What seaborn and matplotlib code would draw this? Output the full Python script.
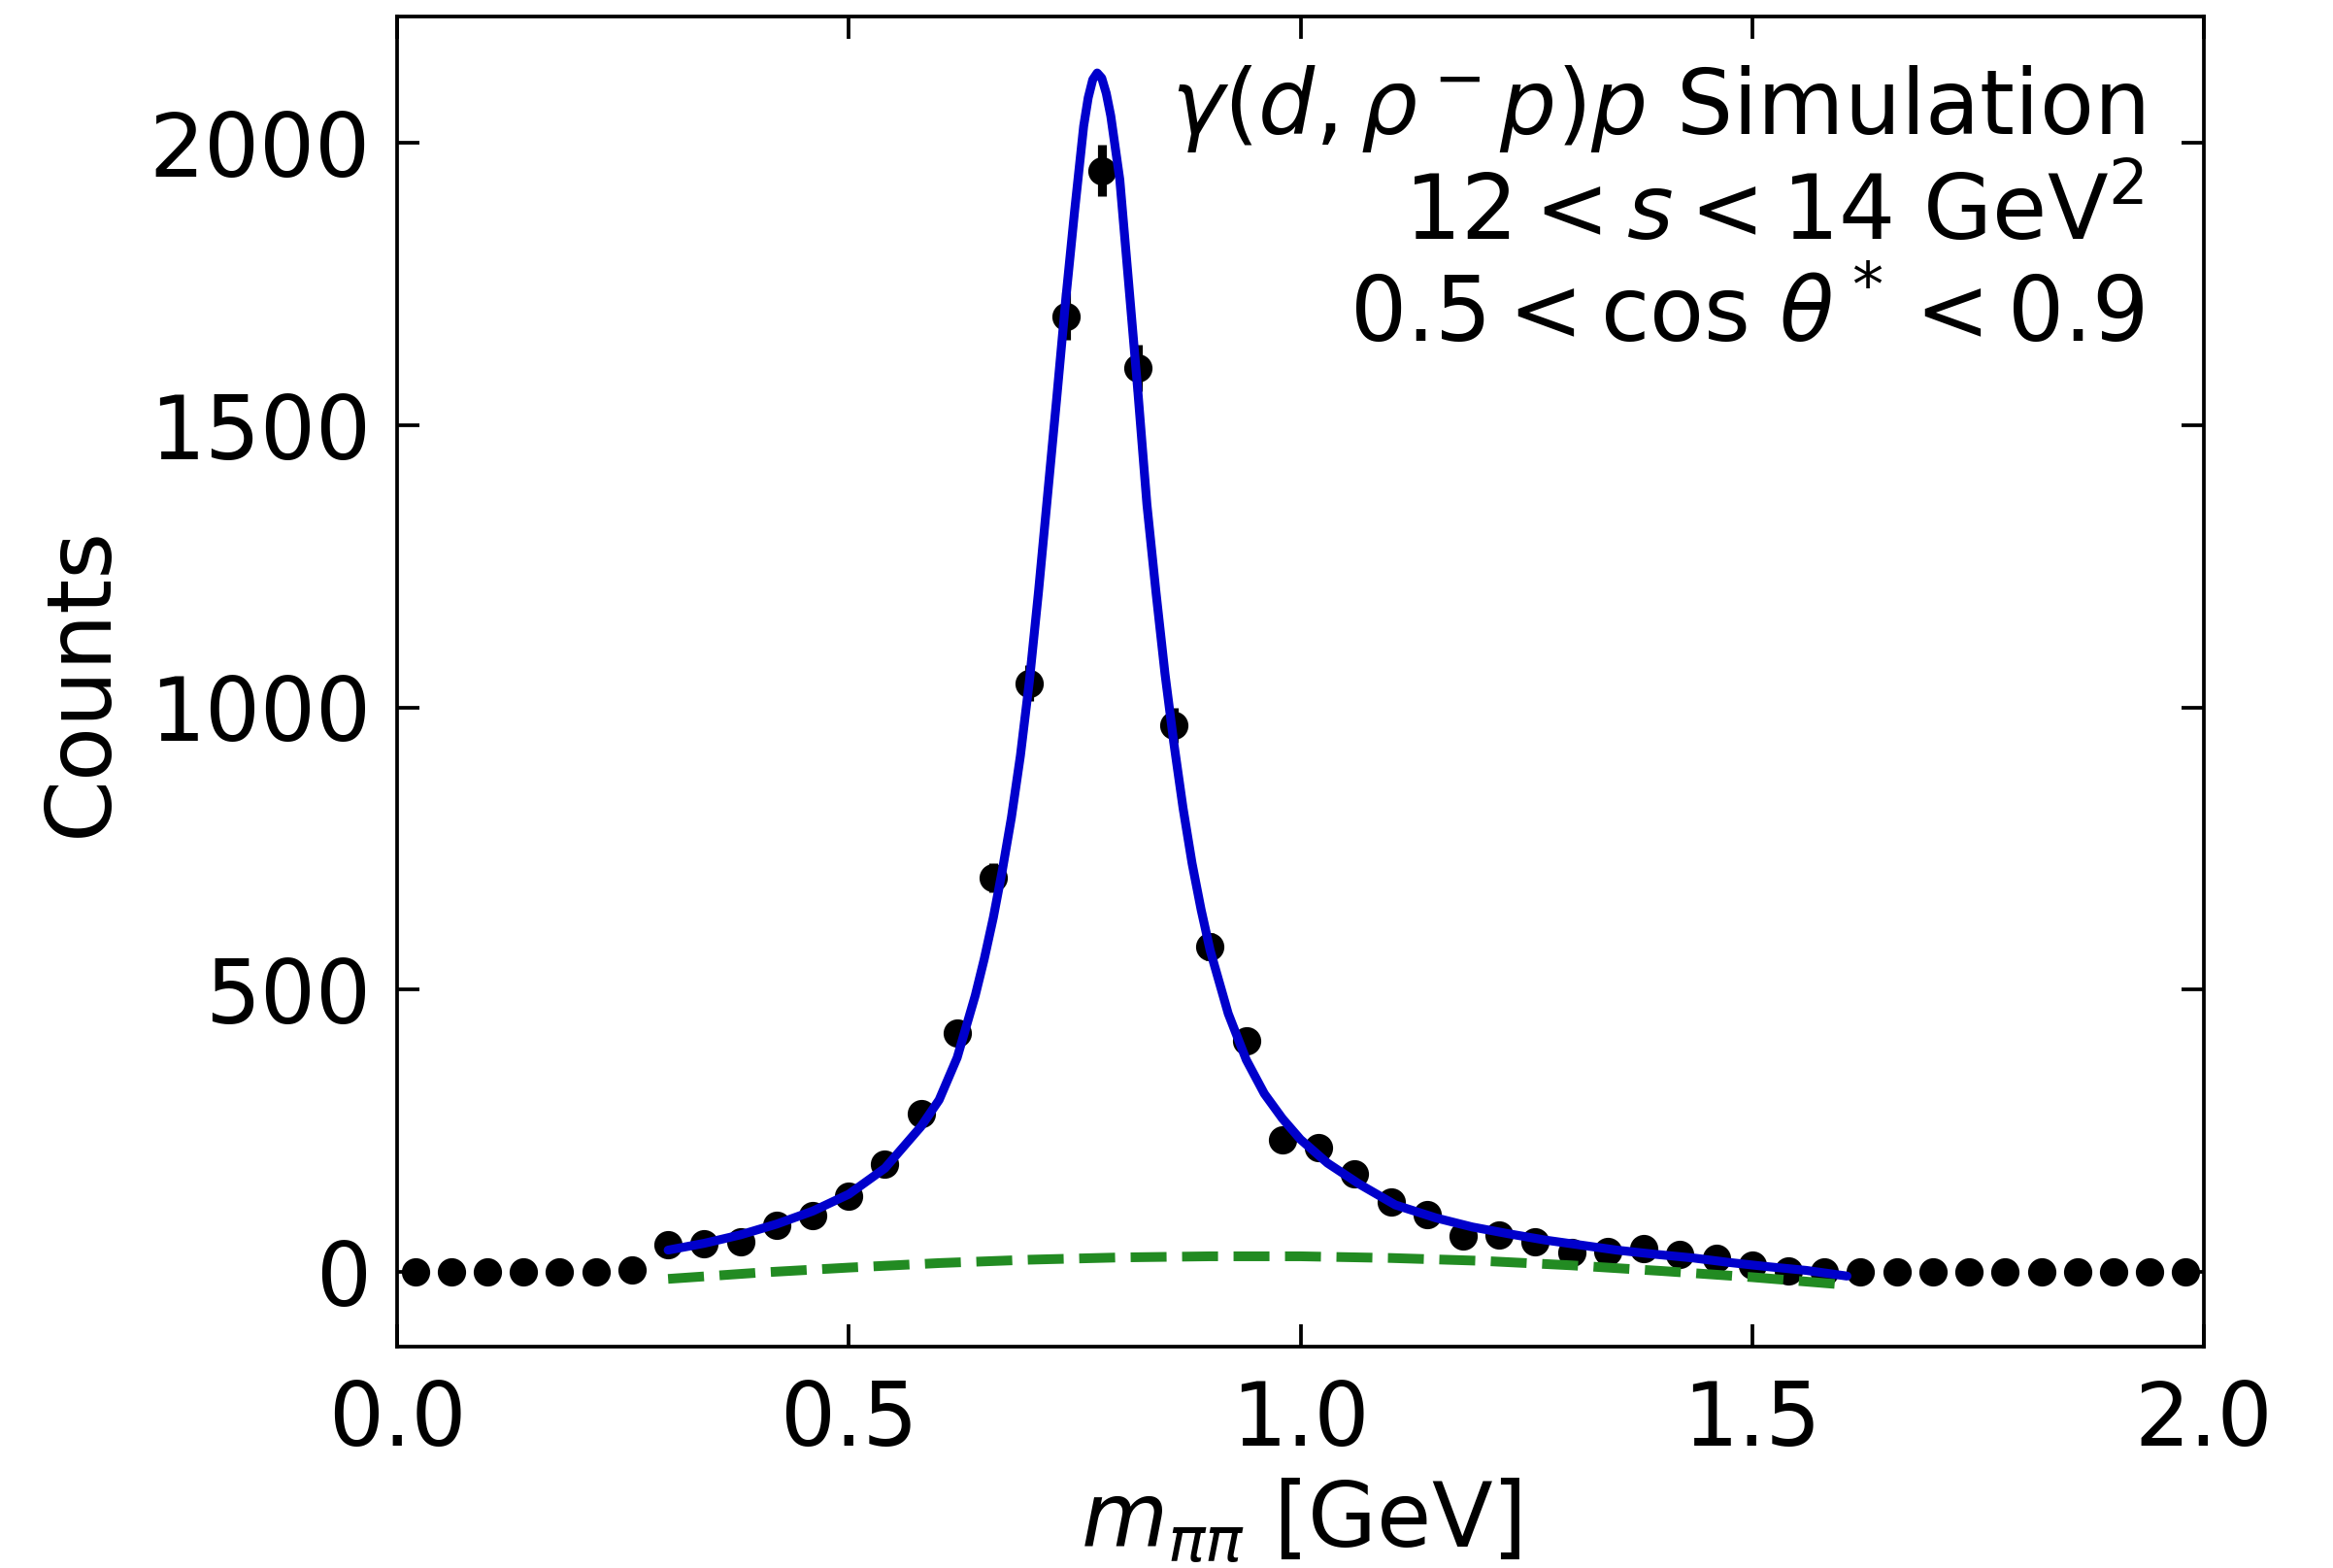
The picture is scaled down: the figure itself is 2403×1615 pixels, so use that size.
import matplotlib
matplotlib.use("Agg")
import matplotlib.pyplot as plt
import seaborn as sns
import numpy as np

# ---- data ----
bin_centers = [0.02, 0.06, 0.10, 0.14, 0.18, 0.22, 0.26, 0.30, 0.34, 0.38,
               0.42, 0.46, 0.50, 0.54, 0.58, 0.62, 0.66, 0.70, 0.74, 0.78,
               0.82, 0.86, 0.90, 0.94, 0.98, 1.02, 1.06, 1.10, 1.14, 1.18,
               1.22, 1.26, 1.30, 1.34, 1.38, 1.42, 1.46, 1.50, 1.54, 1.58,
               1.62, 1.66, 1.70, 1.74, 1.78, 1.82, 1.86, 1.90, 1.94, 1.98]
counts = [0, 0, 0, 0, 0, 0, 4, 48, 51, 53,
          83, 101, 135, 191, 281, 424, 699, 1043, 1693, 1951,
          1601, 969, 576, 409, 235, 221, 174, 124, 102, 64,
          66, 53, 34, 37, 42, 32, 25, 12, 2, 1,
          0, 0, 0, 0, 0, 0, 0, 0, 0, 0]
count_errors = [0, 0, 0, 0, 0, 0, 2, 7, 7, 7,
                9, 10, 12, 14, 17, 21, 26, 32, 42, 46,
                41, 31, 24, 20, 15, 15, 13, 11, 10, 8,
                8, 7, 6, 6, 6, 6, 5, 3, 1, 1,
                0, 0, 0, 0, 0, 0, 0, 0, 0, 0]

fit_x = [0.30, 0.34, 0.38, 0.42, 0.46, 0.50, 0.54, 0.58, 0.60, 0.62,
         0.64, 0.65, 0.66, 0.67, 0.68, 0.69, 0.70, 0.71, 0.72, 0.73,
         0.74, 0.75, 0.76, 0.765, 0.77, 0.775, 0.78, 0.785, 0.79, 0.80,
         0.81, 0.82, 0.83, 0.84, 0.85, 0.86, 0.87, 0.88, 0.89, 0.90,
         0.92, 0.94, 0.96, 0.98, 1.00, 1.03, 1.065, 1.105, 1.15, 1.19,
         1.23, 1.27, 1.31, 1.35, 1.39, 1.435, 1.475, 1.515, 1.56, 1.605]
fit_y = [39, 51, 66, 85, 108, 138, 184, 258, 305, 380,
         490, 555, 628, 712, 805, 915, 1048, 1205, 1375, 1545,
         1720, 1880, 2030, 2080, 2112, 2124, 2115, 2088, 2048, 1935,
         1748, 1560, 1360, 1205, 1060, 935, 822, 724, 642, 570,
         458, 376, 316, 272, 235, 193, 156, 119, 96, 80,
         68, 57, 48, 39, 32, 25, 17, 10, 3, -7]

bkg_x = [0.30, 0.40, 0.50, 0.60, 0.70, 0.80, 0.90, 1.00, 1.10, 1.20,
         1.30, 1.40, 1.50, 1.60]
bkg_y = [-12, -1, 8, 16, 22, 26, 28, 28, 25, 20,
         12, 2, -9, -22]

x_ticks = [0.0, 0.5, 1.0, 1.5, 2.0]
y_ticks = [0, 500, 1000, 1500, 2000]

annotation_lines = [r"$\gamma(d,\rho^-p)p$ Simulation",
                    r"$12 < s < 14$ GeV$^2$",
                    r"$0.5 < \cos\,\theta^* < 0.9$"]

# ---- style ----
sns.set_theme(style="white")
plt.rcParams["font.family"] = ["DejaVu Sans"]
plt.rcParams["mathtext.fontset"] = "dejavusans"

fig = plt.figure(figsize=(2403 / 300, 1615 / 300), dpi=300)
ax = fig.add_axes([409 / 2403, 1 - 1387 / 1615, (2270 - 409) / 2403, (1387 - 17) / 1615])

ax.errorbar(bin_centers, counts, yerr=count_errors, fmt="o", color="black",
            markersize=6.0, elinewidth=2.2, capsize=0, zorder=2)
sns.lineplot(x=fit_x, y=fit_y, ax=ax, color="#0000CC", linewidth=2.2,
             sort=False, estimator=None, zorder=3)
sns.lineplot(x=bkg_x, y=bkg_y, ax=ax, color="#228B22", linewidth=2.4,
             linestyle="--", sort=False, estimator=None, zorder=3)

ax.set_xlim(0, 2)
ax.set_ylim(-132, 2224)
ax.set_xticks(x_ticks)
ax.set_xticklabels([f"{t:.1f}" for t in x_ticks])
ax.set_yticks(y_ticks)
ax.set_yticklabels([str(t) for t in y_ticks])

for side in ["top", "right", "bottom", "left"]:
    ax.spines[side].set_visible(True)
    ax.spines[side].set_color("black")
    ax.spines[side].set_linewidth(0.9)

ax.tick_params(axis="both", which="major", direction="in", length=5.5, width=0.9,
               top=True, right=True, bottom=True, left=True,
               labelsize=21.5, colors="black")
ax.tick_params(axis="x", pad=8)
ax.tick_params(axis="y", pad=6.5)

ax.set_xlabel(r"$m_{\pi\pi}$ [GeV]", fontsize=22, color="black", labelpad=3)
ax.set_ylabel("Counts", fontsize=22, color="black", labelpad=6)

ax.text(0.967, 0.965, "\n".join(annotation_lines), transform=ax.transAxes,
        ha="right", va="top", fontsize=22, color="black", linespacing=1.22,
        multialignment="right")

fig.savefig("out.png", dpi=300)
